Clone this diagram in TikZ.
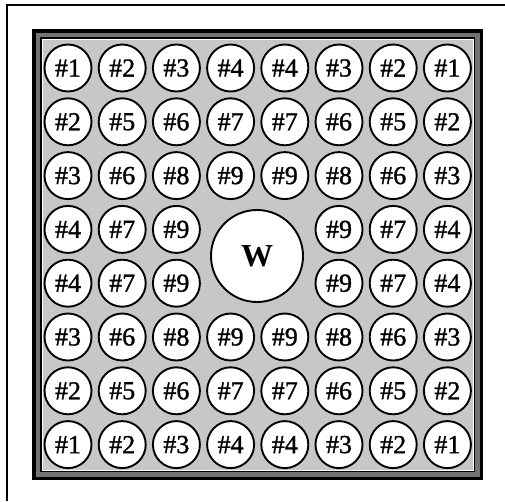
\documentclass[tikz,border=0pt]{standalone}
\usepackage{fontspec}
\setmainfont{Liberation Serif}
\newfontfamily\cellfont[FakeBold=1.2]{Liberation Serif}
\begin{document}
\begin{tikzpicture}[x=1pt,y=-1pt,
  cell/.style={circle, draw, line width=1.9pt, fill=white, minimum size=47pt, inner sep=0pt, font=\cellfont\fontsize{26}{26}\selectfont},
  wcell/.style={circle, draw, line width=1.9pt, fill=white, minimum size=92pt, inner sep=0pt, font=\bfseries\fontsize{32}{32}\selectfont}]
\useasboundingbox (0,0) rectangle (505,501);
\fill[white] (0,0) rectangle (505,501);
% outer frame (cropped)
\draw[line width=2pt] (7,501) -- (7,5) -- (505,5);
% inner shaded frame
\fill[black] (32,29) rectangle (483,480);
\fill[black!55] (35.5,32.5) rectangle (479.5,476.5);
\fill[black] (40,37) rectangle (475,472);
\fill[white] (41.5,38.5) rectangle (473.5,470.5);
\fill[black!22] (42.5,39.5) rectangle (472.5,469.5);
% grid of circles
\foreach \rowvals [count=\j from 0] in {{1,2,3,4,4,3,2,1},{2,5,6,7,7,6,5,2},{3,6,8,9,9,8,6,3},{4,7,9,0,0,9,7,4},{4,7,9,0,0,9,7,4},{3,6,8,9,9,8,6,3},{2,5,6,7,7,6,5,2},{1,2,3,4,4,3,2,1}}{
  \foreach \v [count=\i from 0] in \rowvals {
    \ifnum\v>0
      \node[cell] (c-\j-\i) at ({68+\i*54.2},{68+\j*53.8}) {\#\v};
    \fi
  }
}
\node[wcell] (W) at (257,256) {W};
\end{tikzpicture}
\end{document}
